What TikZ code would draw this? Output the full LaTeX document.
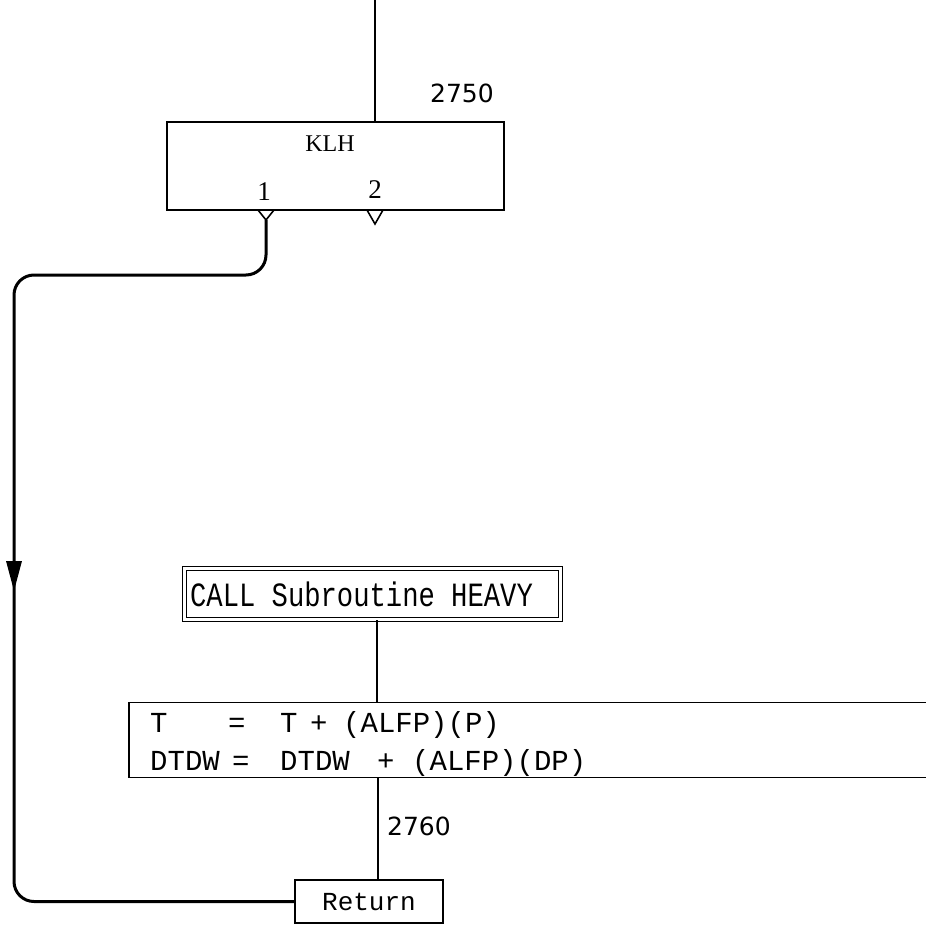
\documentclass[tikz,border=0pt]{standalone}
\usepackage{fontspec}
\setmainfont{Liberation Serif}
\setmonofont{Liberation Mono}
\setsansfont{DejaVu Sans}
\newfontfamily\callfont[FakeStretch=0.8]{Liberation Mono}
\usetikzlibrary{arrows.meta,decorations.markings}

\tikzset{
    box/.style={draw, line width=1.6pt, inner sep=0pt},
    link/.style={line width=1.3pt},
    notch/.style={line width=1.6pt, line join=miter},
    loopline/.style={line width=3pt, rounded corners=20pt,
        decoration={markings, mark=at position 606pt with {\arrow{Triangle[width=15pt,length=30pt]}}},
        postaction=decorate},
    stmt/.style={anchor=base west, inner sep=0pt, font=\ttfamily\fontsize{29}{29}\selectfont},
    exitno/.style={inner sep=0pt, font=\fontsize{27}{27}\selectfont},
    num/.style={inner sep=0pt, font=\sffamily\fontsize{25}{25}\selectfont}
}

\begin{document}
\begin{tikzpicture}[x=1pt, y=-1pt]
    \useasboundingbox (0,0) rectangle (926,929);
    \clip (0,0) rectangle (926,929);
    % boxes
        \node[box, minimum width=337pt, minimum height=88pt] (klh) at (335.5,166) {};
        \node[inner sep=0pt, font=\fontsize{24}{24}\selectfont] (klhtext) at (330,144) {KLH};
        \node[box, double, line width=1.3pt, double distance=2.5pt,
              minimum width=376pt, minimum height=51pt,
              font=\callfont\fontsize{34}{34}\selectfont] (call) at (372.5,594) {CALL Subroutine HEAVY\hspace*{22pt}};
        \node[box, minimum width=832pt, minimum height=75pt] (tbox) at (545,740) {};
        \node[box, minimum width=148pt, minimum height=43pt,
              font=\ttfamily\fontsize{26}{26}\selectfont] (ret) at (369,901.5) {Return};
    % statements
        \foreach \x/\t [count=\i] in {150/T,228/=,280/T,310/+,343/(ALFP)(P)}{
            \node[stmt] (ta\i) at (\x,732) {\t};
        }
        \foreach \x/\t [count=\i] in {150/DTDW,232/=,280/DTDW,377/+,412/(ALFP)(DP)}{
            \node[stmt] (tb\i) at (\x,770) {\t};
        }
    % exits of KLH
        \coordinate (out1) at (266,220);
        \coordinate (out2) at (375,224);
        \draw[notch] (258,210) -- (out1) -- (274,210);
        \draw[notch] (367,210) -- (out2) -- (383,210);
        \node[exitno] (one) at (264,192) {1};
        \node[exitno] (two) at (375,190) {2};
    % links
        \coordinate (entry) at (375,0);
        \draw[link] (entry) -- (entry |- klh.north);
        \draw[link] ([xshift=4.5pt]call.south) -- ([xshift=4.5pt]call.south |- tbox.north);
        \draw[link] ([xshift=9pt]ret.north) -- ([xshift=9pt]ret.north |- tbox.south);
        \coordinate (loopnw) at (14,275);
        \draw[loopline] (out1) |- (loopnw) |- (ret.west);
    % labels
        \node[num] (l2750) at (462,93) {2750};
        \node[num] (l2760) at (419,826) {2760};
\end{tikzpicture}
\end{document}
